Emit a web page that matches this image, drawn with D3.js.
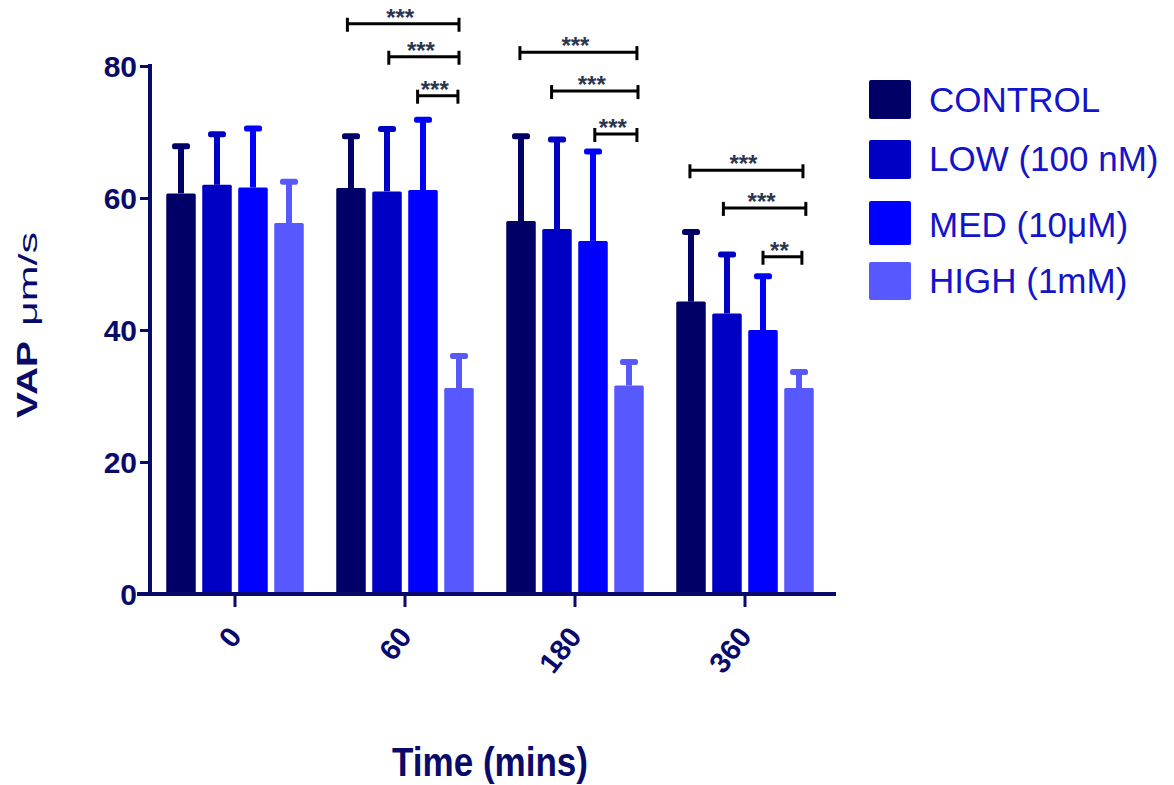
<!DOCTYPE html>
<html>
<head>
<meta charset="utf-8">
<script src="https://cdn.jsdelivr.net/npm/d3@7"></script>
<style>
  body { margin: 0; background: #fff; }
  svg { display: block; font-family: "Liberation Sans", Arial, sans-serif; }
</style>
</head>
<body>
<div id="chart"></div>
<script>
const times = ["0", "60", "180", "360"];
const series = ["CONTROL", "LOW (100 nM)", "MED (10\u03bcM)", "HIGH (1mM)"];
const colors = ["#000066", "#0000c4", "#0000ff", "#5858ff"];

// mean values per series (order of times)
const controlMean = [60.7, 61.5, 56.5, 44.3];
const lowMean = [62.0, 61.0, 55.3, 42.5];
const medMean = [61.6, 61.2, 53.5, 40.0];
const highMean = [56.2, 31.2, 31.6, 31.2];
// top of error bars
const controlErr = [68.0, 69.5, 69.5, 55.0];
const lowErr = [69.8, 70.6, 69.0, 51.6];
const medErr = [70.7, 72.0, 67.2, 48.3];
const highErr = [62.6, 36.2, 35.3, 33.8];

const yTicks = [0, 20, 40, 60, 80];

// significance brackets: group, ends (in bar-slot units, 0 = CONTROL .. 3 = HIGH), level, label
const sigTime = ["60", "60", "60", "180", "180", "180", "360", "360", "360"];
const sigFrom = [-0.1, 1.05, 1.85, -0.03, 0.85, 2.05, -0.03, 0.9, 2.0];
const sigTo = [3.0, 3.0, 2.97, 3.22, 3.25, 3.22, 3.11, 3.19, 3.08];
const sigLevel = [86.4, 81.4, 75.5, 82.1, 76.2, 69.7, 64.2, 58.5, 51.1];
const sigLabel = ["***", "***", "***", "***", "***", "***", "***", "***", "**"];

const means = [controlMean, lowMean, medMean, highMean];
const errs = [controlErr, lowErr, medErr, highErr];

const W = 1174, H = 785;
const axisCol = "#0a0a6a";

const svg = d3.select("#chart").append("svg").attr("width", W).attr("height", H);

const x0 = d3.scaleBand().domain(times).range([150, 830]);
const x1 = d3.scaleBand().domain(d3.range(series.length))
    .range([x0.bandwidth() / 2 - 72, x0.bandwidth() / 2 + 72])
    .paddingInner(0.18).paddingOuter(0.09);
const y = d3.scaleLinear().domain([0, 80]).range([594, 66]);

// slot position inside a group (fractional slot allowed)
var slotX = (t, s) => x0(t) + x1(0) + x1.bandwidth() / 2 + s * x1.step();

// bars data
var bars = [];
times.forEach((t, ti) => {
    series.forEach((s, si) => {
        bars.push({ t: t, s: si, v: means[si][ti], e: errs[si][ti] });
    });
});

// error bars (behind bars)
var eb = svg.append("g").selectAll("g").data(bars).enter().append("g");
eb.append("line")
    .attr("x1", d => slotX(d.t, d.s))
    .attr("x2", d => slotX(d.t, d.s))
    .attr("y1", d => y(d.v))
    .attr("y2", d => y(d.e))
    .attr("stroke", d => colors[d.s])
    .attr("stroke-width", 6);
eb.append("rect")
    .attr("x", d => slotX(d.t, d.s) - 9)
    .attr("y", d => y(d.e) - 2)
    .attr("width", 18)
    .attr("height", 6)
    .attr("rx", 2.5)
    .attr("fill", d => colors[d.s]);

svg.append("g").selectAll("rect").data(bars).enter().append("rect")
    .attr("x", d => x0(d.t) + x1(d.s))
    .attr("y", d => y(d.v))
    .attr("width", x1.bandwidth())
    .attr("height", d => y(0) - y(d.v))
    .attr("rx", 1.5)
    .attr("fill", d => colors[d.s]);

// axes
var yAxis = svg.append("g").attr("transform", "translate(150,0)")
    .call(d3.axisLeft(y).tickValues(yTicks).tickSize(10).tickSizeOuter(0).tickPadding(3));
yAxis.select(".domain").attr("stroke", axisCol).attr("stroke-width", 4)
    .attr("d", "M0," + (y(80) - 2) + "V" + (y(0) + 2));
yAxis.selectAll(".tick line").attr("stroke", axisCol).attr("stroke-width", 3);
yAxis.selectAll(".tick text")
    .attr("fill", axisCol).attr("font-size", 30).attr("font-weight", "bold")
    .attr("font-family", "Liberation Sans, Arial, sans-serif")
    .attr("dy", "0.36em");

var xAxis = svg.append("g").attr("transform", "translate(0," + y(0) + ")")
    .call(d3.axisBottom(x0).tickSize(13).tickSizeOuter(0).tickPadding(0));
xAxis.select(".domain").attr("stroke", axisCol).attr("stroke-width", 4)
    .attr("d", "M137,0H836");
xAxis.selectAll(".tick line").attr("stroke", axisCol).attr("stroke-width", 3);
xAxis.selectAll(".tick text")
    .attr("fill", axisCol).attr("font-size", 29).attr("font-weight", "bold")
    .attr("font-family", "Liberation Sans, Arial, sans-serif")
    .attr("text-anchor", "end")
    .attr("y", 0).attr("dy", 0)
    .attr("transform", "translate(8,43) rotate(-52)");

// axis titles
var yt = svg.append("g").attr("transform", "translate(37,418) rotate(-90)")
    .attr("fill", axisCol);
yt.append("text").attr("x", 0).attr("font-size", 29).attr("font-weight", "bold")
    .attr("textLength", 77).attr("lengthAdjust", "spacingAndGlyphs").text("VAP");
yt.append("text").attr("x", 92).attr("font-size", 25)
    .attr("textLength", 94).attr("lengthAdjust", "spacingAndGlyphs").text("\u03bcm/s");

svg.append("text")
    .attr("x", 392).attr("y", 776)
    .attr("fill", axisCol)
    .attr("font-size", 40)
    .attr("font-weight", "bold")
    .attr("textLength", 196).attr("lengthAdjust", "spacingAndGlyphs")
    .text("Time (mins)");

// significance brackets
var sig = svg.append("g").selectAll("g").data(sigTime.map((t, i) => ({
    t: t, a: sigFrom[i], b: sigTo[i], lev: sigLevel[i], lab: sigLabel[i]
}))).enter().append("g");
sig.append("line")
    .attr("x1", d => slotX(d.t, d.a)).attr("x2", d => slotX(d.t, d.b))
    .attr("y1", d => y(d.lev)).attr("y2", d => y(d.lev))
    .attr("stroke", "#000").attr("stroke-width", 3);
sig.append("line")
    .attr("x1", d => slotX(d.t, d.a)).attr("x2", d => slotX(d.t, d.a))
    .attr("y1", d => y(d.lev) - 6).attr("y2", d => y(d.lev) + 8)
    .attr("stroke", "#000").attr("stroke-width", 3);
sig.append("line")
    .attr("x1", d => slotX(d.t, d.b)).attr("x2", d => slotX(d.t, d.b))
    .attr("y1", d => y(d.lev) - 6).attr("y2", d => y(d.lev) + 8)
    .attr("stroke", "#000").attr("stroke-width", 3);
sig.append("text")
    .attr("x", d => (slotX(d.t, d.a) + slotX(d.t, d.b)) / 2 - 3)
    .attr("y", d => y(d.lev) + 2)
    .attr("text-anchor", "middle")
    .attr("font-size", 24)
    .attr("font-weight", "bold")
    .attr("fill", "#2a3550")
    .text(d => d.lab);

// legend
var leg = svg.append("g").selectAll("g").data(series).enter().append("g")
    .attr("transform", (d, i) => "translate(869," + [80, 140, 201, 262][i] + ")");
leg.append("rect")
    .attr("width", 42).attr("height", (d, i) => [39, 39, 44, 38][i])
    .attr("rx", 2)
    .attr("fill", (d, i) => colors[i]);
leg.append("text")
    .attr("x", 60).attr("y", (d, i) => [32, 31, 36, 31][i])
    .attr("font-size", 35)
    .attr("fill", "#1414c8")
    .text(d => d);
</script>
</body>
</html>
